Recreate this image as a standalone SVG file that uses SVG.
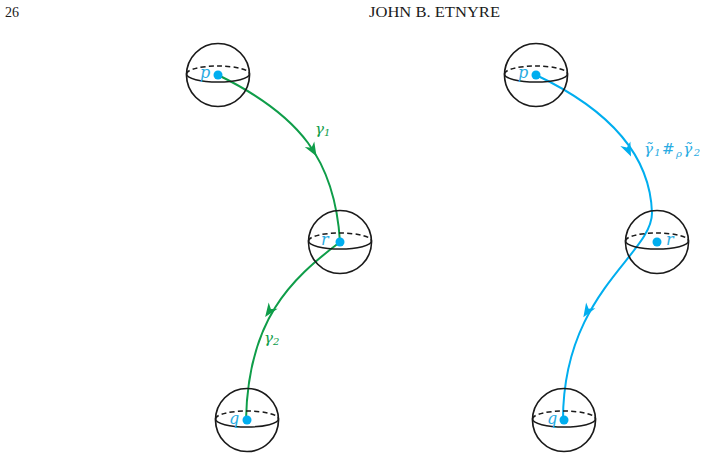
<svg xmlns="http://www.w3.org/2000/svg" width="706" height="459" viewBox="0 0 706 459">
<style>
  .sph{fill:none;stroke:#1a1a1a;stroke-width:1.7}
  .dash{fill:none;stroke:#1a1a1a;stroke-width:1.5;stroke-dasharray:5 3.2}
  .eq{fill:none;stroke:#1a1a1a;stroke-width:1.5}
  .dot{fill:#00aeef}
  .lbl{font-family:"DejaVu Serif","Liberation Serif",serif;font-style:italic;font-size:16px;fill:#29abe2}
  .g{fill:none;stroke:#0f9d49;stroke-width:2}
  .b{fill:none;stroke:#00aeef;stroke-width:2}
  .gh{fill:#0f9d49}
  .bh{fill:#00aeef}
  .glbl{font-family:"DejaVu Serif","Liberation Serif",serif;font-style:italic;font-size:15px;fill:#0f9d49}
  .blbl{font-family:"DejaVu Serif","Liberation Serif",serif;font-style:italic;font-size:15px;fill:#29abe2}
  .hdr{font-family:"Liberation Serif",serif;font-size:14px;fill:#1a1a1a}
</style>
<defs>
  <g id="sphere">
    <circle cx="0" cy="0" r="31.5" class="sph"/>
    <path d="M-31.5,-1 A31.5,8 0 0 1 31.5,-1" class="dash"/>
    <path d="M31.5,-1 A31.5,8 0 0 1 -31.5,-1" class="eq"/>
  </g>
  <path id="ah" d="M5,0 L-9,-5.5 L-5,0 L-9,5.5 Z"/>
</defs>

<g id="header">
  <text x="5" y="17" class="hdr">26</text>
  <text x="369" y="17" class="hdr" textLength="131" lengthAdjust="spacingAndGlyphs">JOHN B. ETNYRE</text>
</g>

<g id="connectors">
  <path class="g" d="M218,75 C300,115 335,160 340,242"/>
  <path class="g" d="M340,242 C290,280 248,320 246,420"/>
  <use href="#ah" class="gh" transform="translate(314,152) rotate(60)"/>
  <use href="#ah" class="gh" transform="translate(268,313) rotate(125)"/>
  <path class="b" d="M536,75 C595,103 650,145 652,213 C652,255 563,292 563,420"/>
  <use href="#ah" class="bh" transform="translate(629,152) rotate(66)"/>
  <use href="#ah" class="bh" transform="translate(586,313) rotate(122)"/>
  <text x="315" y="134" class="glbl">γ<tspan font-size="10" dy="2">1</tspan></text>
  <text x="264" y="343" class="glbl">γ<tspan font-size="10" dy="2">2</tspan></text>
  <text x="644" y="154" class="blbl" textLength="56" lengthAdjust="spacing">γ̃<tspan font-size="10" dy="2">1</tspan><tspan dy="-2" font-style="normal">#</tspan><tspan font-size="10" dy="3">ρ</tspan><tspan dy="-3">γ̃</tspan><tspan font-size="10" dy="2">2</tspan></text>
</g>

<g id="node-p-left">
  <use href="#sphere" transform="translate(218,75)"/>
  <circle cx="218" cy="75" r="4.5" class="dot"/>
  <text x="200" y="78" class="lbl">p</text>
</g>
<g id="node-r-left">
  <use href="#sphere" transform="translate(340,242)"/>
  <circle cx="340" cy="242" r="4.5" class="dot"/>
  <text x="321" y="245" class="lbl">r</text>
</g>
<g id="node-q-left">
  <use href="#sphere" transform="translate(247,420)"/>
  <circle cx="247" cy="420" r="4.5" class="dot"/>
  <text x="229" y="424" class="lbl">q</text>
</g>
<g id="node-p-right">
  <use href="#sphere" transform="translate(536,75)"/>
  <circle cx="536" cy="75" r="4.5" class="dot"/>
  <text x="518" y="78" class="lbl">p</text>
</g>
<g id="node-r-right">
  <use href="#sphere" transform="translate(657,242)"/>
  <circle cx="657" cy="242" r="4.5" class="dot"/>
  <text x="666" y="245" class="lbl">r</text>
</g>
<g id="node-q-right">
  <use href="#sphere" transform="translate(564,420)"/>
  <circle cx="564" cy="420" r="4.5" class="dot"/>
  <text x="547" y="424" class="lbl">q</text>
</g>
</svg>
